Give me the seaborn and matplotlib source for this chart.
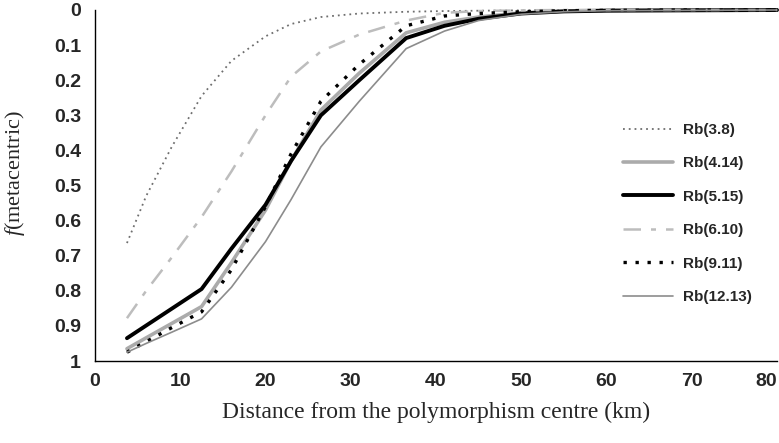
import matplotlib
matplotlib.use("Agg")
import matplotlib.pyplot as plt
import seaborn as sns
import pandas as pd

# distances (km) and frequency of metacentric for each Rb fusion
distance = [3.75, 6, 9, 12.5, 16, 20, 23, 26.5, 31, 36.5, 41, 45, 50, 55, 60, 70, 80]
rb_3_8 = [0.664, 0.53, 0.39, 0.245, 0.145, 0.075, 0.04, 0.02, 0.01, 0.005, 0.003, 0.002, 0.001, 0, 0, 0, 0]
rb_4_14 = [0.965, 0.934, 0.893, 0.845, 0.72, 0.57, 0.43, 0.285, 0.18, 0.065, 0.035, 0.02, 0.008, 0.003, 0.001, 0, 0]
rb_5_15 = [0.935, 0.899, 0.851, 0.795, 0.68, 0.555, 0.43, 0.30, 0.20, 0.08, 0.045, 0.025, 0.01, 0.004, 0.002, 0.001, 0]
rb_6_10 = [0.878, 0.80, 0.705, 0.59, 0.46, 0.30, 0.19, 0.118, 0.07, 0.03, 0.008, 0.003, 0.001, 0, 0, 0, 0]
rb_9_11 = [0.975, 0.945, 0.905, 0.86, 0.74, 0.56, 0.41, 0.26, 0.155, 0.045, 0.017, 0.01, 0.005, 0.002, 0.001, 0, 0]
rb_12_13 = [0.975, 0.95, 0.918, 0.88, 0.79, 0.66, 0.54, 0.39, 0.26, 0.11, 0.06, 0.03, 0.012, 0.005, 0.002, 0.001, 0]

labels = ["Rb(3.8)", "Rb(4.14)", "Rb(5.15)", "Rb(6.10)", "Rb(9.11)", "Rb(12.13)"]
series = [rb_3_8, rb_4_14, rb_5_15, rb_6_10, rb_9_11, rb_12_13]

df = pd.concat([pd.DataFrame({"distance": distance, "f": vals, "fusion": lab})
                for lab, vals in zip(labels, series)], ignore_index=True)

sns.set_style("white")
plt.rcParams["font.family"] = ["Liberation Sans", "DejaVu Sans"]
plt.rcParams["mathtext.fontset"] = "custom"
plt.rcParams["mathtext.rm"] = "Liberation Serif"
plt.rcParams["mathtext.it"] = "Liberation Serif:italic"

styles = {
    "Rb(3.8)": dict(color="#6e6e6e", lw=1.3, ls=(0, (1, 2.2))),
    "Rb(4.14)": dict(color="#ababab", lw=2.6, ls="-"),
    "Rb(5.15)": dict(color="black", lw=2.8, ls="-"),
    "Rb(6.10)": dict(color="#bdbdbd", lw=1.8, ls=(0, (7, 4, 2, 4))),
    "Rb(9.11)": dict(color="black", lw=2.4, ls=(0, (1, 2.6))),
    "Rb(12.13)": dict(color="#8c8c8c", lw=1.2, ls="-"),
}

fig = plt.figure(figsize=(7.79, 4.43), dpi=100)
ax = fig.add_axes([95 / 779, 1 - 361 / 443, 682 / 779, 351 / 443])

for lab in labels:
    st = styles[lab]
    sns.lineplot(data=df[df["fusion"] == lab], x="distance", y="f", ax=ax,
                 color=st["color"], linewidth=st["lw"], linestyle=st["ls"],
                 label=lab, clip_on=False)

ax.set_xlim(0, 80)
ax.set_ylim(1, 0)
ax.set_xticks(range(0, 81, 10))
ax.set_yticks([i / 10 for i in range(11)])
ax.set_yticklabels(["{:g}".format(i / 10) for i in range(11)])

for s in ["top", "right"]:
    ax.spines[s].set_visible(False)
for s in ["left", "bottom"]:
    ax.spines[s].set_color("black")
    ax.spines[s].set_linewidth(1.0)

ax.tick_params(axis="y", direction="out", length=5, width=1, color="black",
               labelsize=14, pad=5)
ax.tick_params(axis="x", direction="in", length=5, width=1, color="black",
               labelsize=14, pad=9)
for t in ax.get_xticklabels() + ax.get_yticklabels():
    t.set_fontweight("bold")
# last x label sits at the figure edge, keep it inside
ax.get_xticklabels()[-1].set_horizontalalignment("right")

ax.set_xlabel("Distance from the polymorphism centre (km)",
              family="Liberation Serif", fontsize=17, labelpad=8)
ax.set_ylabel(r"$f$(metacentric)", family="Liberation Serif", fontsize=16)
ax.yaxis.set_label_coords(-0.1, 0.535)

leg = ax.legend(loc="upper left", bbox_to_anchor=(623 / 779, 1 - 123 / 443),
                bbox_transform=fig.transFigure, frameon=False,
                prop={"weight": "bold", "size": 11}, handlelength=3.3,
                handletextpad=0.65, labelspacing=1.27, borderpad=0,
                borderaxespad=0)

fig.savefig("out.png", dpi=100)
